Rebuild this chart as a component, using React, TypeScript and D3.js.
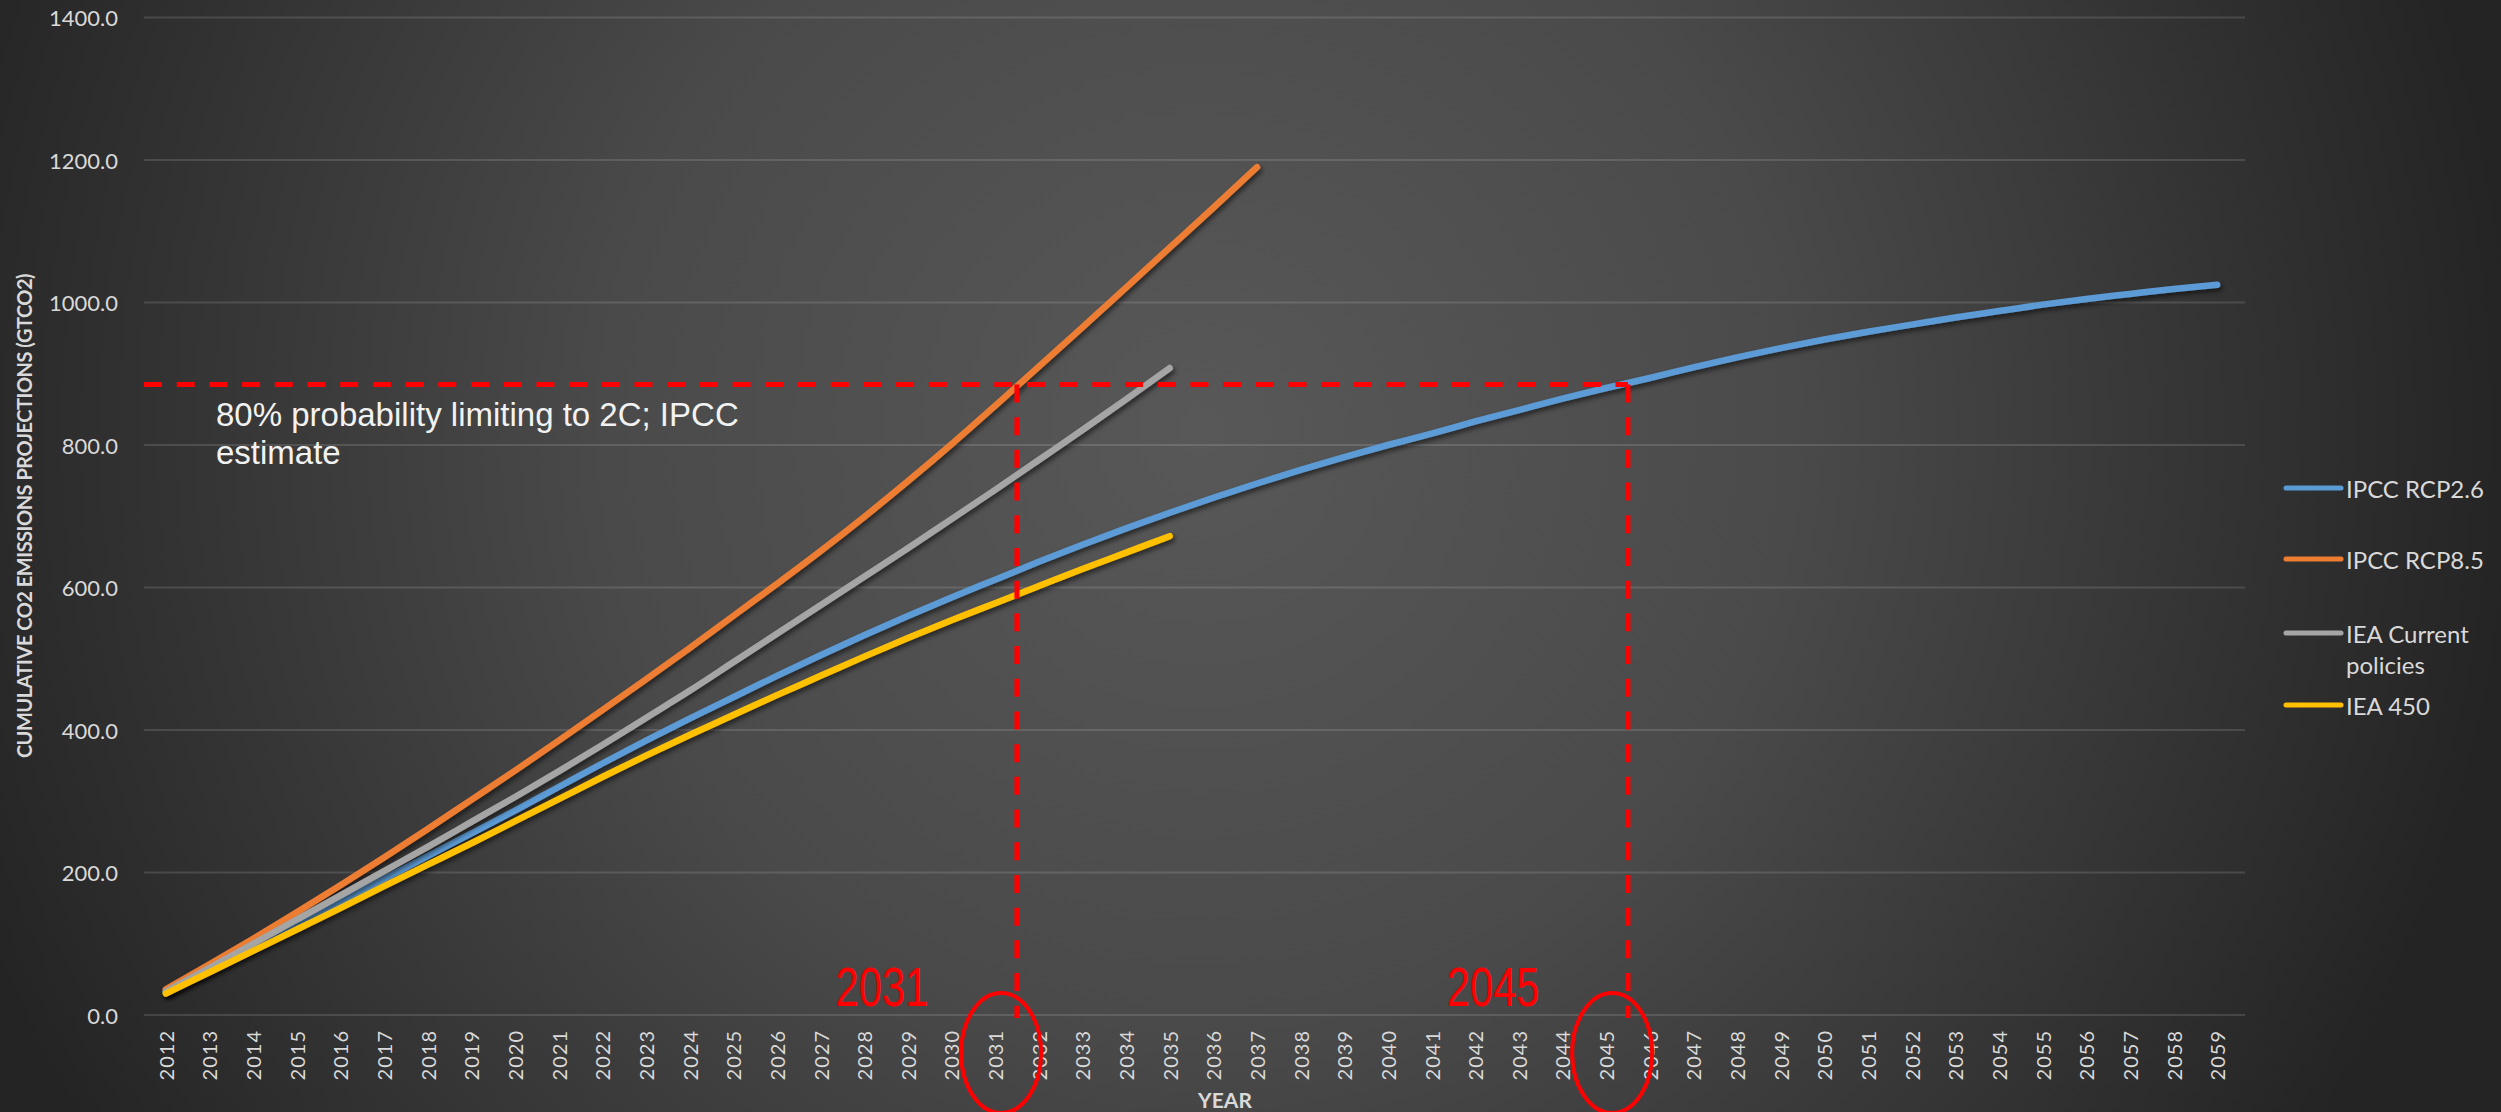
import React from "react";
import * as d3 from "d3";

const years = [2012, 2013, 2014, 2015, 2016, 2017, 2018, 2019, 2020, 2021, 2022, 2023, 2024, 2025, 2026, 2027, 2028, 2029, 2030, 2031, 2032, 2033, 2034, 2035, 2036, 2037, 2038, 2039, 2040, 2041, 2042, 2043, 2044, 2045, 2046, 2047, 2048, 2049, 2050, 2051, 2052, 2053, 2054, 2055, 2056, 2057, 2058, 2059];

const rcp26 = [32, 63, 95, 127, 159, 191, 223, 255, 287, 320, 353, 385, 416, 446, 476, 505, 533, 560, 586, 611, 636, 660, 683, 705, 726, 746, 765, 783, 800, 816, 833, 849, 865, 880, 894, 909, 923, 936, 948, 959, 969, 979, 988, 997, 1005, 1012, 1019, 1025];
const rcp85 = [36, 71, 107, 144, 182, 221, 261, 302, 343, 385, 428, 471, 515, 560, 605, 651, 699, 749, 801, 855, 910, 965, 1021, 1077, 1133, 1190];
const ieaCurrent = [33, 66, 100, 134, 168, 202, 236, 271, 306, 342, 379, 417, 455, 495, 535, 575, 615, 655, 696, 737, 779, 821, 864, 908];
const iea450 = [30, 60, 90, 120, 150, 181, 211, 241, 272, 303, 334, 364, 393, 421, 449, 476, 503, 529, 554, 578, 602, 626, 649, 672];

const seriesNames = ["IPCC RCP2.6", "IPCC RCP8.5", "IEA Current policies", "IEA 450"];
const seriesColors = ["#5B9BD5", "#ED7D31", "#A5A5A5", "#FFC000"];
const yTicks = [0, 200, 400, 600, 800, 1000, 1200, 1400];

const threshold = 885;
const markYears = [2031, 2045];
const annotationLines = ["80% probability limiting to 2C; IPCC", "estimate"];

const W = 2501;
const H = 1112;

export default function App() {
  const x = d3.scaleBand<number>().domain(years).range([144, 2239]).padding(0);
  const bw = x.bandwidth();
  const cx = (yr: number) => (x(yr) as number) + bw / 2;
  const y = d3.scaleLinear().domain([0, 1400]).range([1015, 17.5]);

  const allSeries = [rcp26, rcp85, ieaCurrent, iea450];
  const line = d3
    .line<number>()
    .x((_, i) => cx(years[i]))
    .y((d) => y(d))
    .curve(d3.curveMonotoneX);

  const gridColor = "rgba(255,255,255,0.13)";
  const tickColor = "#d9d9d9";
  const red = "#FF0000";
  const xEnd = (yr: number) => (x(yr) as number) + bw;

  const legendY = [488, 559, 633, 705];
  const font = "Lato, 'Open Sans', sans-serif";

  return (
    <svg
      width={W}
      height={H}
      style={{ position: "absolute", left: 0, top: 0, display: "block" }}
      xmlns="http://www.w3.org/2000/svg"
    >
      <defs>
        <radialGradient id="bg" gradientUnits="userSpaceOnUse" cx={1200} cy={430} r={1320}>
          <stop offset="0" stopColor="#585858" />
          <stop offset="0.45" stopColor="#4a4a4a" />
          <stop offset="1" stopColor="#242424" />
        </radialGradient>
        <filter id="shadow" x="-5%" y="-5%" width="110%" height="110%">
          <feDropShadow dx="2" dy="3" stdDeviation="2.5" floodColor="#000" floodOpacity="0.55" />
        </filter>
      </defs>
      <rect x={0} y={0} width={W} height={H} fill="url(#bg)" />

      {/* gridlines */}
      {yTicks.map((t) => (
        <g key={t}>
          <line x1={144} x2={2245} y1={y(t)} y2={y(t)} stroke={gridColor} strokeWidth={2} />
          <text
            x={118}
            y={y(t)}
            textAnchor="end"
            dominantBaseline="central"
            fontFamily={font}
            fontSize={22}
            fill={tickColor}
          >
            {t.toFixed(1)}
          </text>
        </g>
      ))}

      {/* x tick labels */}
      {years.map((yr) => (
        <text
          key={yr}
          transform={`translate(${cx(yr)},${1030}) rotate(-90)`}
          textAnchor="end"
          dominantBaseline="central"
          fontFamily={font}
          fontSize={20}
          letterSpacing={1}
          fill={tickColor}
        >
          {yr}
        </text>
      ))}

      {/* axis titles */}
      <text
        transform={`translate(24,516) rotate(-90)`}
        textAnchor="middle"
        dominantBaseline="central"
        fontFamily={font}
        fontWeight={700}
        fontSize={20}
        letterSpacing={-0.5}
        fill={tickColor}
      >
        CUMULATIVE CO2 EMISSIONS PROJECTIONS (GTCO2)
      </text>
      <text
        x={1225}
        y={1099}
        textAnchor="middle"
        dominantBaseline="central"
        fontFamily={font}
        fontWeight={700}
        fontSize={21}
        fill={tickColor}
      >
        YEAR
      </text>

      {/* series */}
      {allSeries.map((s, i) => (
        <path
          key={seriesNames[i]}
          d={line(s) || ""}
          fill="none"
          stroke={seriesColors[i]}
          strokeWidth={6.5}
          strokeLinecap="round"
          strokeLinejoin="round"
          filter="url(#shadow)"
        />
      ))}

      {/* threshold annotation */}
      <line
        x1={144}
        x2={xEnd(markYears[1])}
        y1={y(threshold)}
        y2={y(threshold)}
        stroke={red}
        strokeWidth={5}
        strokeDasharray="18 14.7"
      />
      {markYears.map((yr) => (
        <g key={yr}>
          <line
            x1={xEnd(yr)}
            x2={xEnd(yr)}
            y1={y(threshold)}
            y2={1018}
            stroke={red}
            strokeWidth={5}
            strokeDasharray="18 14.7"
          />
          <ellipse
            cx={cx(yr) + 6}
            cy={1053}
            rx={40}
            ry={60}
            fill="none"
            stroke={red}
            strokeWidth={4}
          />
          <text
            transform={`translate(${cx(yr) - 113},1006) scale(0.76,1)`}
            textAnchor="middle"
            fontFamily="'Liberation Sans', Arial, sans-serif"
            fontSize={55}
            fill={red}
          >
            {yr}
          </text>
        </g>
      ))}
      {annotationLines.map((t, i) => (
        <text
          key={t}
          x={216}
          y={426 + i * 38}
          fontFamily="'Liberation Sans', Arial, sans-serif"
          fontSize={33}
          fill="#f2f2f2"
        >
          {t}
        </text>
      ))}

      {/* legend */}
      {seriesNames.map((n, i) => (
        <g key={n}>
          <line
            x1={2286}
            x2={2341}
            y1={legendY[i]}
            y2={legendY[i]}
            stroke={seriesColors[i]}
            strokeWidth={5}
            strokeLinecap="round"
          />
          {n === "IEA Current policies" ? (
            <text
              x={2346}
              y={legendY[i]}
              dominantBaseline="central"
              fontFamily={font}
              fontSize={24}
              fill={tickColor}
            >
              <tspan x={2346} dy={0}>IEA Current</tspan>
              <tspan x={2346} dy={31}>policies</tspan>
            </text>
          ) : (
            <text
              x={2346}
              y={legendY[i]}
              dominantBaseline="central"
              fontFamily={font}
              fontSize={24}
              fill={tickColor}
            >
              {n}
            </text>
          )}
        </g>
      ))}
    </svg>
  );
}
